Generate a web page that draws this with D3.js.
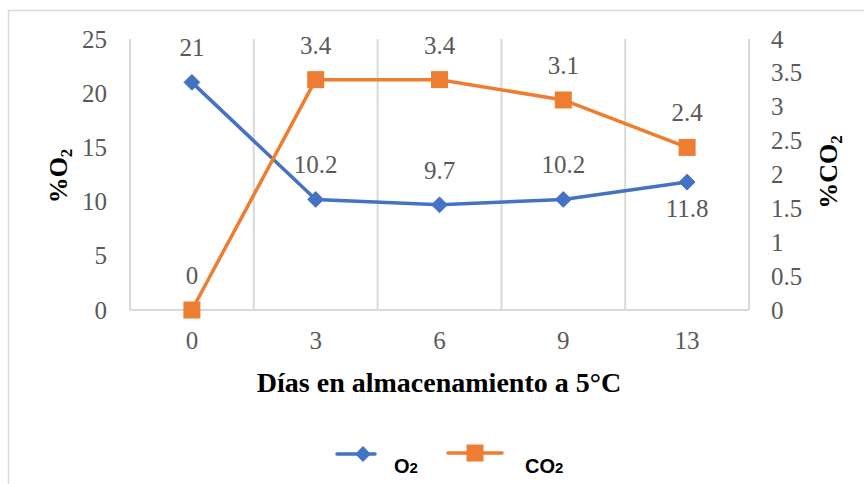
<!DOCTYPE html>
<html>
<head>
<meta charset="utf-8">
<script src="https://cdn.jsdelivr.net/npm/d3@7"></script>
<style>
  html, body { margin: 0; padding: 0; background: #fff; }
  svg { display: block; }
</style>
</head>
<body>
<svg id="chart" width="864" height="484"></svg>
<script>
// Storage days and gas concentrations
const days = ["0", "3", "6", "9", "13"];
const o2Values = [21, 10.2, 9.7, 10.2, 11.8];
const co2Values = [0, 3.4, 3.4, 3.1, 2.4];
const o2Ticks = [0, 5, 10, 15, 20, 25];
const co2Ticks = [0, 0.5, 1, 1.5, 2, 2.5, 3, 3.5, 4];
// label placement for each O2 point: above or below the marker
const o2LabelPos = ["above", "above", "above", "above", "below"];

const blue = "#4472C4", orange = "#ED7D31", grey = "#595959", grid = "#d9d9d9";
const SERIF = '"Liberation Serif"';
const SANS = '"Liberation Sans"';

const svg = d3.select("#chart");
const plot = { left: 130, right: 749, top: 39, bottom: 310 };

// outer chart frame
svg.append("rect")
  .attr("x", 8.5).attr("y", 10.5).attr("width", 870).attr("height", 490)
  .attr("fill", "none").attr("stroke", grid).attr("stroke-width", 1.5);

const x = d3.scaleBand().domain(days).range([plot.left, plot.right]).padding(0);
const yL = d3.scaleLinear().domain([0, 25]).range([plot.bottom, plot.top]);
const yR = d3.scaleLinear().domain([0, 4]).range([plot.bottom, plot.top]);
const cx = d => x(d) + x.bandwidth() / 2;

// vertical gridlines at category boundaries
const bounds = days.map(d => x(d)).concat([plot.right]);
svg.append("g").selectAll("line").data(bounds).join("line")
  .attr("x1", d => d).attr("x2", d => d)
  .attr("y1", plot.top).attr("y2", plot.bottom)
  .attr("stroke", grid).attr("stroke-width", 2);

// bottom axis line
svg.append("line")
  .attr("x1", plot.left).attr("x2", plot.right)
  .attr("y1", plot.bottom).attr("y2", plot.bottom)
  .attr("stroke", grid).attr("stroke-width", 2);

function styleTicks(g) {
  g.select(".domain").remove();
  g.attr("font-family", null).attr("font-size", null);
  g.selectAll("text")
    .style("font-family", SERIF).style("font-size", "25px").attr("fill", grey);
}

// left axis (O2)
svg.append("g").attr("transform", `translate(${plot.left - 23},0)`)
  .call(d3.axisLeft(yL).tickValues(o2Ticks).tickFormat(d => String(d)).tickSize(0).tickPadding(0))
  .call(styleTicks);

// right axis (CO2)
svg.append("g").attr("transform", `translate(${plot.right + 22},0)`)
  .call(d3.axisRight(yR).tickValues(co2Ticks).tickFormat(d => String(d)).tickSize(0).tickPadding(0))
  .call(styleTicks);

// bottom axis (days)
const gB = svg.append("g").attr("transform", `translate(0,${plot.bottom + 21})`)
  .call(d3.axisBottom(x).tickSize(0).tickPadding(0))
  .call(styleTicks);
gB.selectAll("text").attr("dy", "0.71em");

// axis titles
svg.append("text")
  .attr("x", 439).attr("y", 392).attr("text-anchor", "middle")
  .style("font-family", SERIF).style("font-size", "28px").style("font-weight", "bold")
  .text("Días en almacenamiento a 5°C");

const tL = svg.append("text")
  .attr("transform", "translate(67,176) rotate(-90)").attr("text-anchor", "middle")
  .style("font-family", SERIF).style("font-size", "26px").style("font-weight", "bold");
tL.append("tspan").text("%O");
tL.append("tspan").style("font-size", "17px").attr("dy", 5).text("2");

const tR = svg.append("text")
  .attr("transform", "translate(837,172) rotate(-90)").attr("text-anchor", "middle")
  .style("font-family", SERIF).style("font-size", "26px").style("font-weight", "bold");
tR.append("tspan").text("%CO");
tR.append("tspan").style("font-size", "17px").attr("dy", 5).text("2");

// series lines
const o2Data = days.map((d, i) => ({ d, v: o2Values[i], pos: o2LabelPos[i] }));
const co2Data = days.map((d, i) => ({ d, v: co2Values[i] }));

svg.append("path").datum(o2Data)
  .attr("d", d3.line().x(p => cx(p.d)).y(p => yL(p.v)))
  .attr("fill", "none").attr("stroke", blue).attr("stroke-width", 3.5)
  .attr("stroke-linejoin", "round");
svg.append("path").datum(co2Data)
  .attr("d", d3.line().x(p => cx(p.d)).y(p => yR(p.v)))
  .attr("fill", "none").attr("stroke", orange).attr("stroke-width", 3.5)
  .attr("stroke-linejoin", "round");

// markers
const diamond = d3.symbol().type(d3.symbolDiamond2).size(160);
const square = d3.symbol().type(d3.symbolSquare).size(289);
svg.append("g").selectAll("path").data(o2Data).join("path")
  .attr("transform", p => `translate(${cx(p.d)},${yL(p.v)})`)
  .attr("d", diamond).attr("fill", blue)
  .attr("stroke", blue).attr("stroke-width", 1).attr("stroke-linejoin", "round");
svg.append("g").selectAll("path").data(co2Data).join("path")
  .attr("transform", p => `translate(${cx(p.d)},${yR(p.v)})`)
  .attr("d", square).attr("fill", orange);

// data labels
svg.append("g").selectAll("text").data(o2Data).join("text")
  .attr("x", p => cx(p.d))
  .attr("y", p => p.pos === "above" ? yL(p.v) - 26 : yL(p.v) + 35)
  .attr("text-anchor", "middle")
  .style("font-family", SERIF).style("font-size", "25px")
  .attr("fill", grey).text(p => p.v);
svg.append("g").selectAll("text").data(co2Data).join("text")
  .attr("x", p => cx(p.d))
  .attr("y", p => yR(p.v) - 26)
  .attr("text-anchor", "middle")
  .style("font-family", SERIF).style("font-size", "25px")
  .attr("fill", grey).text(p => p.v);

// legend
const legend = svg.append("g");
legend.append("line").attr("x1", 337).attr("x2", 375).attr("y1", 454).attr("y2", 454)
  .attr("stroke", blue).attr("stroke-width", 3.5).attr("stroke-linecap", "round");
legend.append("path").attr("transform", "translate(363,454)").attr("d", diamond).attr("fill", blue);
const lgO2 = legend.append("text").attr("x", 394).attr("y", 473)
  .style("font-family", SANS).style("font-size", "20px").style("font-weight", "bold");
lgO2.append("tspan").text("O");
lgO2.append("tspan").style("font-size", "15px").text("2");
legend.append("line").attr("x1", 448).attr("x2", 502).attr("y1", 453).attr("y2", 453)
  .attr("stroke", orange).attr("stroke-width", 3.5).attr("stroke-linecap", "round");
legend.append("path").attr("transform", "translate(475,453)").attr("d", square).attr("fill", orange);
const lgCO2 = legend.append("text").attr("x", 525).attr("y", 473)
  .style("font-family", SANS).style("font-size", "20px").style("font-weight", "bold");
lgCO2.append("tspan").text("CO");
lgCO2.append("tspan").style("font-size", "15px").text("2");
</script>
</body>
</html>
